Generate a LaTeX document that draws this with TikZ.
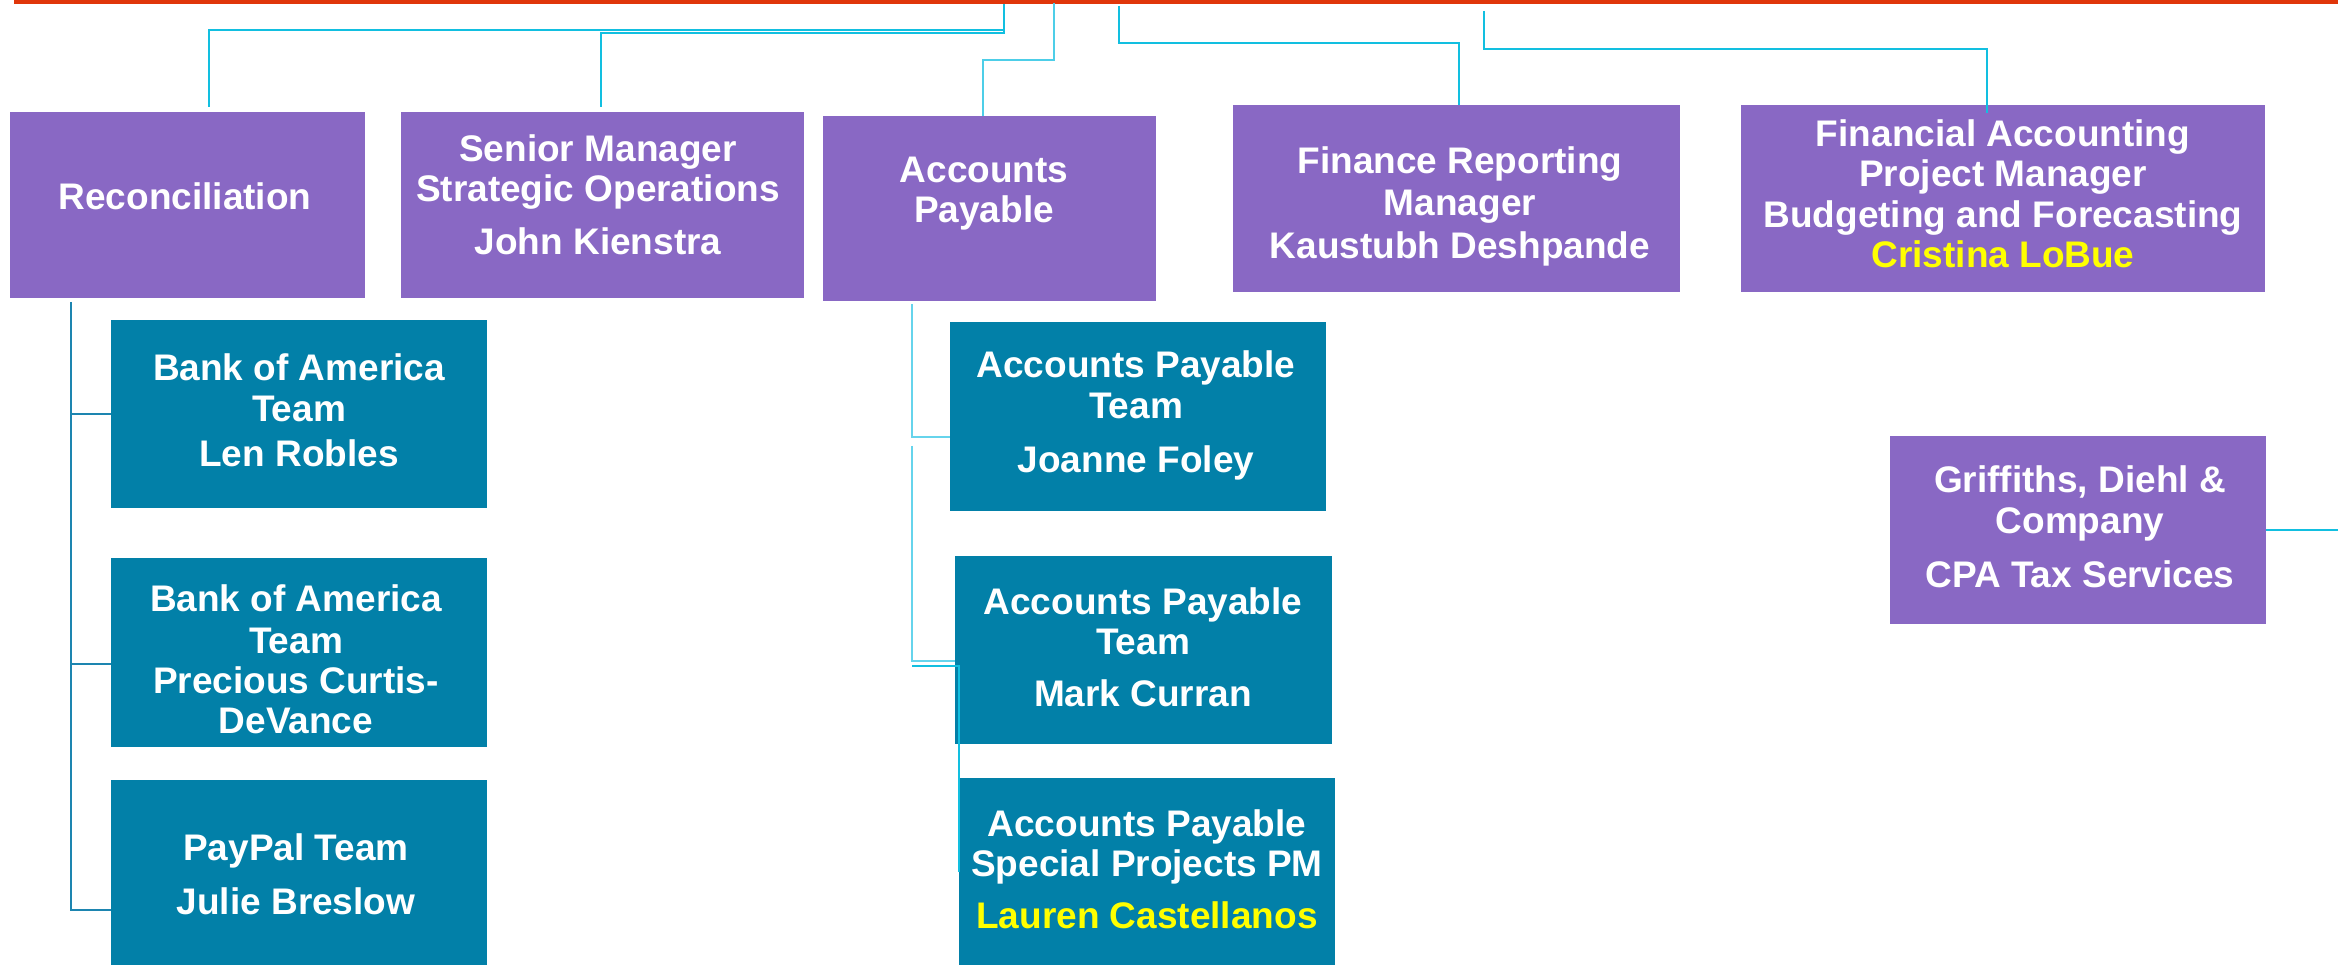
\documentclass[tikz,border=0pt]{standalone}
\usepackage{fontspec}
\setmainfont{Liberation Sans}
\usetikzlibrary{calc}
\definecolor{purp}{HTML}{8968C4}
\definecolor{tealbox}{HTML}{0280A8}
\definecolor{redbar}{HTML}{E0360A}
\definecolor{cyanln}{HTML}{12BFE0}
\definecolor{lcyan}{HTML}{66D4EC}
\definecolor{ltreec}{HTML}{1D85B0}
\definecolor{yel}{HTML}{FFFF00}
\newcommand\tline[4]{\node[txt] (#1) at (#2,#3) {#4};}
\begin{document}
\begin{tikzpicture}[x=1pt,y=-1pt,
  pbox/.style={fill=purp,draw=none,inner sep=0,outer sep=0},
  tbox/.style={fill=tealbox,draw=none,inner sep=0,outer sep=0},
  txt/.style={anchor=base,inner sep=0,outer sep=0,text=white,font=\fontsize{37}{40}\selectfont\bfseries},
  conn/.style={draw=cyanln,line width=2.5pt},
  mtree/.style={draw=lcyan,line width=2pt},
  mtreeb/.style={draw=cyanln,line width=2pt},
  ltree/.style={draw=ltreec,line width=2pt}]
\useasboundingbox (0,0) rectangle (2338,965);
% red bar
\fill[redbar] (14,0) rectangle (2338,4);
% purple boxes
\node[pbox,minimum width=355pt,minimum height=186pt] (rec) at (187.5,205) {};
\node[pbox,minimum width=403pt,minimum height=186pt] (sm) at (602.5,205) {};
\node[pbox,minimum width=333pt,minimum height=185pt] (ap) at (989.5,208.5) {};
\node[pbox,minimum width=447pt,minimum height=187pt] (fr) at (1456.5,198.5) {};
\node[pbox,minimum width=524pt,minimum height=187pt] (fa) at (2003,198.5) {};
\node[pbox,minimum width=376pt,minimum height=188pt] (gr) at (2078,530) {};
% teal boxes
\node[tbox,minimum width=376pt,minimum height=188pt] (a) at (299,414) {};
\node[tbox,minimum width=376pt,minimum height=189pt] (b) at (299,652.5) {};
\node[tbox,minimum width=376pt,minimum height=185pt] (c) at (299,872.5) {};
\node[tbox,minimum width=376pt,minimum height=189pt] (d) at (1138,416.5) {};
\node[tbox,minimum width=377pt,minimum height=188pt] (e) at (1143.5,650) {};
\node[tbox,minimum width=376pt,minimum height=187pt] (f) at (1147,871.5) {};
% texts
\tline{rec1}{185}{210}{Reconciliation}
\tline{sm1}{598}{162}{Senior Manager}
\tline{sm2}{598}{202}{Strategic Operations}
\tline{sm3}{598}{255}{John Kienstra}
\tline{ap1}{984}{183}{Accounts}
\tline{ap2}{984}{223}{Payable}
\tline{fr1}{1460}{174}{Finance Reporting}
\tline{fr2}{1460}{216}{Manager}
\tline{fr3}{1460}{259}{Kaustubh Deshpande}
\tline{fa1}{2003}{147}{Financial Accounting}
\tline{fa2}{2003}{187}{Project Manager}
\tline{fa3}{2003}{228}{Budgeting and Forecasting}
\tline{fa4}{2003}{268}{\color{yel}Cristina LoBue}
\tline{gr1}{2080}{493}{Griffiths, Diehl \&}
\tline{gr2}{2080}{533}{Company}
\tline{gr3}{2080}{587}{CPA Tax Services}
\tline{a1}{299}{381}{Bank of America}
\tline{a2}{299}{422}{Team}
\tline{a3}{299}{466}{Len Robles}
\tline{b1}{296}{611}{Bank of America}
\tline{b2}{296}{653}{Team}
\tline{b3}{296}{693}{Precious Curtis-}
\tline{b4}{296}{733}{DeVance}
\tline{c1}{296}{860}{PayPal Team}
\tline{c2}{296}{914}{Julie Breslow}
\tline{d1}{1136}{378}{Accounts Payable}
\tline{d2}{1136}{419}{Team}
\tline{d3}{1136}{472}{Joanne Foley}
\tline{e1}{1143}{614}{Accounts Payable}
\tline{e2}{1143}{654}{Team}
\tline{e3}{1143}{706}{Mark Curran}
\tline{f1}{1147}{836}{Accounts Payable}
\tline{f2}{1147}{876}{Special Projects PM}
\tline{f3}{1147}{928}{\color{yel}Lauren Castellanos}
% top connectors
\coordinate (t1) at (1004,4);
\coordinate (t2) at (1054,3);
\coordinate (t3) at (1119,6);
\coordinate (t4) at (1484,11);
\draw[conn] (t1) -- ++(0,26) -| ([xshift=21.5pt,yshift=5pt]rec.north);
\draw[conn] (t1) -- ++(0,29) -| ([xshift=-1.5pt,yshift=5pt]sm.north);
\draw[conn,draw=lcyan!70!cyanln] (t2) -- ++(0,57) -| ([xshift=-6.5pt]ap.north);
\draw[conn] (t3) -- ++(0,37) -| ([xshift=2.5pt]fr.north);
\draw[conn] (t4) -- ++(0,38) -| ([xshift=-16pt,yshift=-8pt]fa.north);
% left tree
\coordinate (lt) at ([xshift=-116.5pt,yshift=-4pt]rec.south);
\coordinate (bw) at ([yshift=-11.5pt]b.west);
\coordinate (cw) at ([yshift=-37.5pt]c.west);
\draw[ltree] (lt) -- (lt |- cw) -- (cw);
\draw[ltree] (lt |- a.west) -- (a.west);
\draw[ltree] (lt |- bw) -- (bw);
% middle tree
\coordinate (mt) at ([xshift=-77.5pt,yshift=-3pt]ap.south);
\coordinate (dw) at ([yshift=-20.5pt]d.west);
\coordinate (ew) at ([yshift=-11pt]e.west);
\coordinate (m2) at ([yshift=-142pt]mt);
\coordinate (m3) at ([yshift=-362pt]mt);
\coordinate (fw) at ([yshift=-0.5pt]f.west);
\draw[mtree] (mt) -- (mt |- dw) -- (dw);
\draw[mtree] (m2) -- (m2 |- ew) -- (ew);
\draw[mtreeb] (m3) -- (m3 -| f.west) -- (fw);
% Griffiths connector
\coordinate (ge) at (2338,530);
\draw[conn] (gr.east) -- (ge);
\end{tikzpicture}
\end{document}
